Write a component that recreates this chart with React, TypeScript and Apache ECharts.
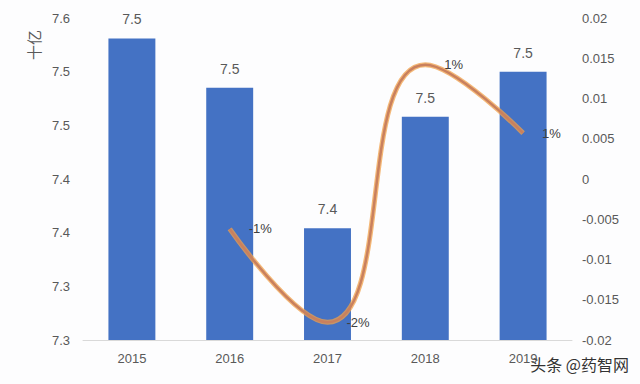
import React, { useEffect, useRef } from "react";
import * as echarts from "echarts";

const categories = ["2015", "2016", "2017", "2018", "2019"];
const marketValues = [7.581, 7.535, 7.404, 7.508, 7.55];
const growthValues = [null, -0.0062, -0.0178, 0.0142, 0.0057];
const leftTickLabels = ["7.3", "7.3", "7.4", "7.4", "7.5", "7.5", "7.6"];
const rightTickLabels = ["-0.02", "-0.015", "-0.01", "-0.005", "0", "0.005", "0.01", "0.015", "0.02"];

export default function App() {
  const ref = useRef<HTMLDivElement>(null);
  useEffect(() => {
    if (!ref.current) return;
    const chart = echarts.init(ref.current, null, { renderer: "svg" });
    const axisText = { color: "#595959", fontSize: 13, fontFamily: "Liberation Sans, Arial, sans-serif" };
    chart.setOption({
      animation: false,
      backgroundColor: "#fdfdfe",
      grid: { left: 83, right: 68, top: 18, bottom: 44 },
      xAxis: {
        type: "category",
        data: categories,
        axisLine: { onZero: false, lineStyle: { color: "#d9d9d9" } },
        axisTick: { show: false },
        axisLabel: { ...axisText, margin: 12 },
      },
      yAxis: [
        {
          type: "value",
          min: 7.3,
          max: 7.6,
          interval: 0.05,
          splitLine: { show: false },
          axisLine: { show: false },
          axisTick: { show: false },
          axisLabel: {
            ...axisText,
            margin: 13,
            formatter: (v: number) => leftTickLabels[Math.round((v - 7.3) / 0.05)] ?? "",
          },
        },
        {
          type: "value",
          min: -0.02,
          max: 0.02,
          interval: 0.005,
          splitLine: { show: false },
          axisLine: { show: false },
          axisTick: { show: false },
          axisLabel: {
            ...axisText,
            margin: 10,
            formatter: (v: number) => rightTickLabels[Math.round((v + 0.02) / 0.005)] ?? "",
          },
        },
      ],
      series: [
        {
          type: "bar",
          data: marketValues,
          barWidth: "48%",
          itemStyle: { color: "#4472c4" },
          label: {
            show: true,
            position: "top",
            distance: 12,
            color: "#595959",
            fontSize: 14,
            fontFamily: "Liberation Sans, Arial, sans-serif",
            formatter: (p: any) => (Math.floor(p.value * 10 + 1e-9) / 10).toFixed(1),
          },
        },
        {
          type: "line",
          yAxisIndex: 1,
          data: growthValues,
          smooth: 0.5,
          symbol: "none",
          lineStyle: { color: "#f0a04a", width: 5, opacity: 0.75 },
          z: 3,
        },
        {
          type: "line",
          yAxisIndex: 1,
          data: growthValues,
          smooth: 0.5,
          symbol: "circle",
          symbolSize: 2,
          showSymbol: true,
          itemStyle: { color: "rgba(0,0,0,0)" },
          lineStyle: { color: "#c9805e", width: 2.5 },
          z: 4,
          label: {
            show: true,
            position: "right",
            distance: 18,
            color: "#404040",
            fontSize: 13,
            fontFamily: "Liberation Sans, Arial, sans-serif",
            formatter: (p: any) => Math.round(p.value * 100) + "%",
          },
        },
      ],
      graphic: [
        {
          type: "text",
          x: 33,
          y: 45,
          rotation: Math.PI / 2,
          style: {
            text: "十亿",
            fill: "#595959",
            font: "15px 'Noto Sans CJK SC'",
            align: "center",
            verticalAlign: "middle",
          },
        },
        {
          type: "text",
          right: 10,
          top: 355,
          style: {
            text: "头条 @药智网",
            fill: "#333333",
            font: "16px 'Noto Sans CJK SC'",
            stroke: "#ffffff",
            lineWidth: 2,
          },
        },
      ],
    });
    return () => chart.dispose();
  }, []);
  return <div ref={ref} style={{ width: 640, height: 384, position: "absolute", left: 0, top: 0 }} />;
}
